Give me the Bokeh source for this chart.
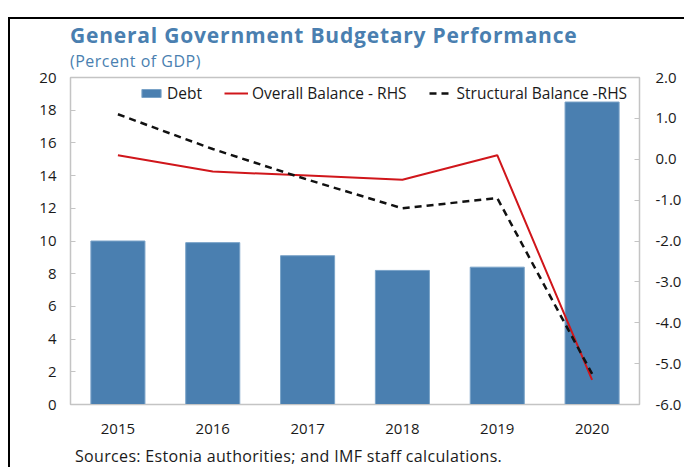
from bokeh.plotting import figure
from bokeh.models import (Range1d, LinearAxis, FixedTicker, Legend, LegendItem, Div,
                          FactorRange, NumeralTickFormatter)
from bokeh.layouts import column
from bokeh.embed import file_html
from bokeh.resources import INLINE

years = ["2015", "2016", "2017", "2018", "2019", "2020"]
debt = [10.0, 9.9, 9.1, 8.2, 8.4, 18.5]
overall_balance = [0.1, -0.3, -0.4, -0.5, 0.1, -5.4]
structural_balance = [1.1, 0.25, -0.5, -1.2, -0.95, -5.25]
left_ticks = [0, 2, 4, 6, 8, 10, 12, 14, 16, 18, 20]
right_ticks = [-6, -5, -4, -3, -2, -1, 0, 1, 2]

title_text = "General Government Budgetary Performance"
subtitle_text = "(Percent of GDP)"
source_text = "Sources: Estonia authorities; and IMF staff calculations."

FONT = "Open Sans"
BLUE = "#4a7fb0"
GRAY = "#c4c4c4"
TXT = "#1a1a1a"
W = 674

header = Div(text=(
    f"<div style=\"font-family:'{FONT}';color:{BLUE};padding-left:60px;white-space:nowrap;margin:0\">"
    f"<div style=\"font-size:21px;font-weight:bold;letter-spacing:0.8px;line-height:33px;height:33px\">{title_text}</div>"
    f"<div style=\"font-size:16px;letter-spacing:0.5px;line-height:18px;height:13px\">{subtitle_text}</div>"
    "</div>"), width=W, height=46, margin=0)

footer = Div(text=(
    f"<div style=\"font-family:'{FONT}';color:{TXT};font-size:16px;letter-spacing:0.33px;"
    f"line-height:22px;height:22px;padding-left:65px;white-space:nowrap;margin:0\">{source_text}</div>"),
    width=W, height=22, margin=0)

p = figure(width=W, height=380, x_range=FactorRange(factors=years),
           y_range=Range1d(0, 20), output_backend="svg", toolbar_location=None,
           min_border_left=60, min_border_right=44, min_border_top=12,
           min_border_bottom=41, margin=0)
p.extra_y_ranges = {"rhs": Range1d(-6, 2)}

p.grid.visible = False
p.outline_line_color = GRAY
p.outline_line_width = 1.5
p.background_fill_color = "white"
p.border_fill_color = None

bars = p.vbar(x=years, top=debt, width=0.57, bottom=0, fill_color=BLUE,
              line_color="#7aa3c8", line_width=1)
red = p.line(x=years, y=overall_balance, y_range_name="rhs", line_color="#d0161b",
             line_width=2)
blk = p.line(x=years, y=structural_balance, y_range_name="rhs", line_color="#111111",
             line_width=2.5, line_dash="7 5")

# axes
xa = p.xaxis[0]
xa.axis_line_color = GRAY
xa.major_tick_line_color = None
xa.major_label_text_font = FONT
xa.major_label_text_font_size = "15px"
xa.major_label_text_color = TXT
xa.major_label_standoff = 13

ya = p.yaxis[0]
ya.ticker = FixedTicker(ticks=left_ticks)
ya.axis_line_color = GRAY
ya.major_tick_line_color = GRAY
ya.major_tick_in = 5
ya.major_tick_out = 0
ya.minor_tick_line_color = None
ya.major_label_text_font = FONT
ya.major_label_text_font_size = "15px"
ya.major_label_text_color = TXT
ya.major_label_standoff = 14

ra = LinearAxis(y_range_name="rhs", ticker=FixedTicker(ticks=right_ticks),
                formatter=NumeralTickFormatter(format="0.0"))
ra.axis_line_color = GRAY
ra.major_tick_line_color = GRAY
ra.major_tick_in = 5
ra.major_tick_out = 0
ra.minor_tick_line_color = None
ra.major_label_text_font = FONT
ra.major_label_text_font_size = "15px"
ra.major_label_text_color = TXT
ra.major_label_standoff = 16
p.add_layout(ra, "right")

legend = Legend(items=[
    LegendItem(label="Debt", renderers=[bars]),
    LegendItem(label="Overall Balance - RHS", renderers=[red]),
    LegendItem(label="Structural Balance -RHS", renderers=[blk]),
], orientation="horizontal", location=(69, 300), padding=0, margin=0, spacing=22,
    glyph_width=24, glyph_height=10, label_height=14, label_standoff=4,
    label_text_font=FONT, label_text_font_size="15.5px", label_text_color=TXT,
    background_fill_alpha=0, border_line_color=None)
p.add_layout(legend)

layout = column(header, p, footer, spacing=0,
                styles={"border-left": "2px solid #000", "border-top": "2px solid #000",
                        "margin-top": "17px", "margin-left": "8px"})

open("out.html", "w").write(file_html(layout, INLINE))
